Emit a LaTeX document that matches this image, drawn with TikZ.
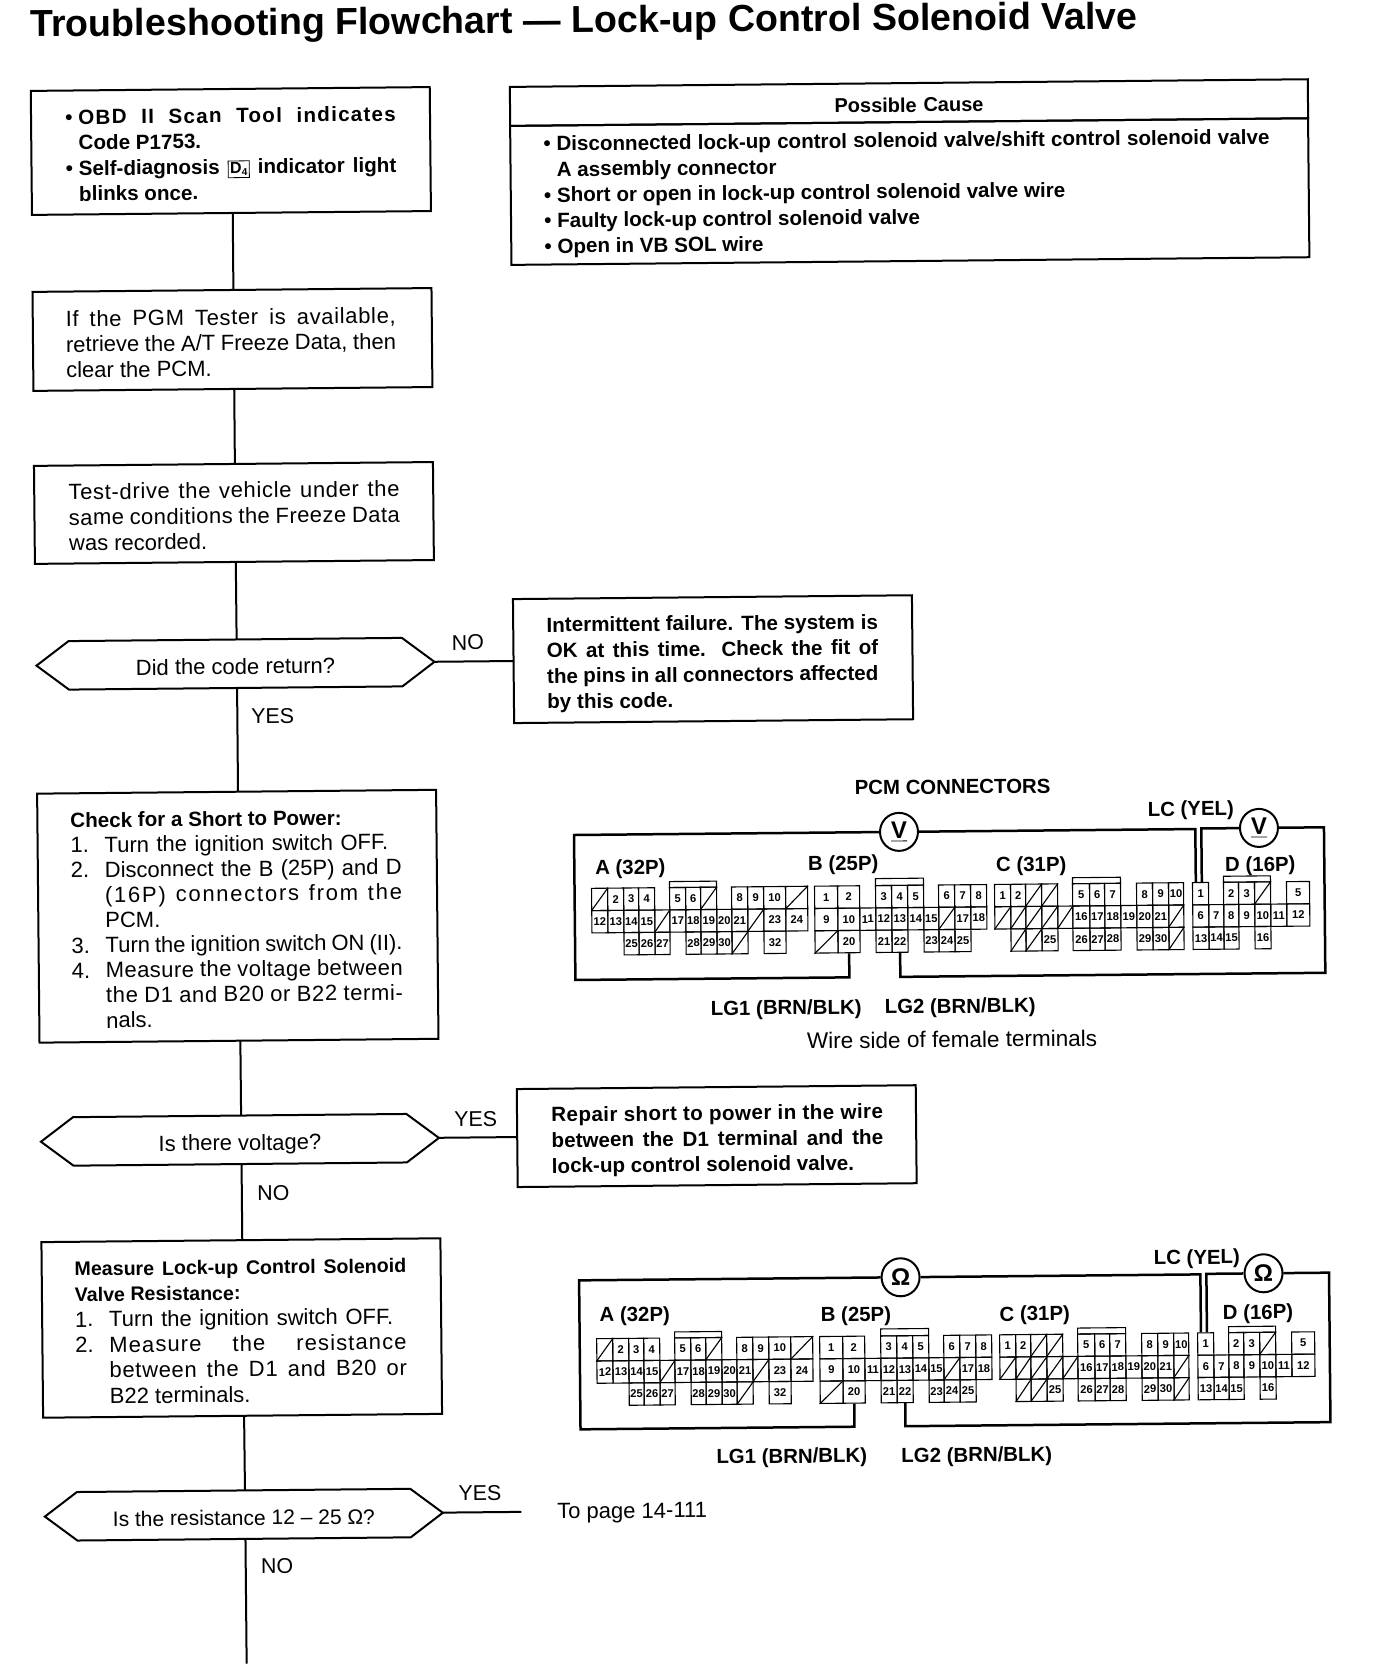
\documentclass[tikz,border=0pt]{standalone}
\usepackage{fontspec}
\setmainfont{Liberation Sans}
\usetikzlibrary{positioning,shapes.symbols}

\newcommand{\jl}[2]{\makebox[#1pt][s]{#2}}
\newcommand{\spaced}[1]{\addfontfeature{LetterSpace=#1}}
\newcommand{\numitem}[1]{\makebox[17pt][l]{#1}}
\newcommand{\bul}{\makebox[6.5pt][l]{\textbullet}}
\newcommand{\bulgap}{\hspace*{6.5pt}}
% left margin and height of the first line of a box text
\newcommand{\textstart}[2]{\leftskip=#1\spaceskip=0pt\xspaceskip=0pt\rule{0pt}{#2}\ignorespaces}

% the four PCM connectors, local origin at the top left of A
\newcommand{\pcmcells}[1]{
	\foreach \blk/\xa/\xb/\rw/\pin in {
		A/16/32/0/2,A/32/47/0/3,A/47/63/0/4,A/78/94/0/5,A/94/109/0/6,A/140/156/0/8,A/156/172/0/9,A/172/194/0/10,
		A/0/16/1/12,A/16/32/1/13,A/32/47/1/14,A/47/63/1/15,A/78/94/1/17,A/94/109/1/18,A/109/125/1/19,A/125/140/1/20,A/140/156/1/21,A/172/194/1/23,A/194/216/1/24,
		A/32/47/2/25,A/47/63/2/26,A/63/78/2/27,A/94/109/2/28,A/109/125/2/29,A/125/140/2/30,A/172/194/2/32,
		B/223/246/0/1,B/246/268/0/2,B/284/300/0/3,B/300/316/0/4,B/316/332/0/5,B/347/363/0/6,B/363/379/0/7,B/379/395/0/8,
		B/223/246/1/9,B/246/268/1/10,B/268/284/1/11,B/284/300/1/12,B/300/316/1/13,B/316/332/1/14,B/332/347/1/15,B/363/379/1/17,B/379/395/1/18,
		B/246/268/2/20,B/284/300/2/21,B/300/316/2/22,B/332/347/2/23,B/347/363/2/24,B/363/379/2/25,
		C/403/419/0/1,C/419/434/0/2,C/481/498/0/5,C/498/513/0/6,C/513/529/0/7,C/545/561/0/8,C/561/577/0/9,C/577/592/0/10,
		C/481/498/1/16,C/498/513/1/17,C/513/529/1/18,C/529/545/1/19,C/545/561/1/20,C/561/577/1/21,
		C/450/466/2/25,C/481/498/2/26,C/498/513/2/27,C/513/529/2/28,C/545/561/2/29,C/561/577/2/30,
		D/601/617/0/1,D/632/647/0/2,D/647/663/0/3,D/695/718/0/5,
		D/601/617/1/6,D/617/632/1/7,D/632/647/1/8,D/647/663/1/9,D/663/679/1/10,D/679/695/1/11,D/695/718/1/12,
		D/601/617/2/13,D/617/632/2/14,D/632/647/2/15,D/663/679/2/16}{
		\pgfmathsetmacro{\cw}{(\xb-\xa)*0.5}
		\node[pincell,minimum width=\cw pt] (#1\blk\pin) at ({(\xa+\xb)/2},{(\rw+0.5)*22.3}) {\pin};
	}
	% blanked terminals
	\foreach \xa/\xb/\rw in {
		0/16/0,109/125/0,194/216/0,63/78/1,156/172/1,140/156/2,
		223/246/2,347/363/1,
		434/450/0,450/466/0,403/419/1,419/434/1,434/450/1,450/466/1,466/481/1,577/592/1,419/434/2,434/450/2,577/592/2,
		663/679/0}{
		\pgfmathsetmacro{\cw}{(\xb-\xa)*0.5}
		\node[pincell,minimum width=\cw pt] (#1x\xa r\rw) at ({(\xa+\xb)/2},{(\rw+0.5)*22.3}) {};
		\draw[pinedge] (#1x\xa r\rw.south west) -- (#1x\xa r\rw.north east);
	}
	% keys above the cavities
	\draw[pinedge] (78,-6) rectangle (125,0);
	\draw[pinedge] (284,-7) rectangle (332,0);
	\draw[pinedge] (481,-6) rectangle (529,0);
	\draw[pinedge] (632,-6) rectangle (679,0);
}

\begin{document}
\begin{tikzpicture}[
	x=0.5pt,y=-0.5pt,
	flowbox/.style={draw, line width=1pt, outer sep=0pt, inner xsep=0pt, inner ysep=1pt, text width=199.5pt, align=left, font=\fontsize{11}{12.8}\selectfont},
	boldbox/.style={flowbox, font=\fontsize{10.3}{12.8}\selectfont\bfseries},
	decision/.style={draw, line width=1pt, outer sep=0pt, signal, signal to=west and east, signal pointer angle=73.8, minimum width=199pt, minimum height=24.25pt, inner ysep=0pt, text height=10.5pt, text depth=0pt, font=\fontsize{11}{12.8}\selectfont},
	flowline/.style={line width=1pt},
	trunk/.style={flowline, transform canvas={xshift=0.7pt}},
	answer/.style={font=\fontsize{10.7}{12.8}\selectfont},
	pincell/.style={draw, line width=0.55pt, inner sep=0pt, minimum height=11.15pt, font=\fontsize{5.6}{6}\selectfont\bfseries},
	pinedge/.style={line width=0.55pt},
	wire/.style={line width=1.25pt},
	meter/.style={draw, circle, line width=1pt, fill=white, inner sep=0pt, minimum size=19pt, font=\fontsize{12}{12}\selectfont\bfseries},
	tag/.style={font=\fontsize{10.2}{12}\selectfont\bfseries, inner sep=0pt}
	]
	\useasboundingbox (0,0) rectangle (1376,1676);

	\begin{scope}[rotate=0.55, transform shape]

	\node[anchor=base west, rotate=-0.15, inner sep=0pt, font=\fontsize{18.8}{20}\selectfont\bfseries] (title) at (29.7,37) {Troubleshooting Flowchart — Lock-up Control Solenoid Valve};

	% --- LEFT COLUMN ---
	\node[boldbox, minimum height=62pt] (obdbox) at (229.4,153.2) {\textstart{17.2pt}{10.3pt}
		\bul\jl{158.7}{\spaced{6}OBD II Scan Tool indicates}\\
		\bulgap Code P1753.\\
		\bul\jl{158.7}{Self-diagnosis {\fboxsep=0.8pt\fboxrule=0.4pt\fbox{\fontsize{8}{8}\selectfont D\raisebox{-0.2ex}{\fontsize{5}{5}\selectfont 4}}} indicator light}\\
		\bulgap blinks once.\par};
	\node[flowbox, minimum height=49.5pt] (pgmbox) at (229.2,341.7) {\textstart{16.5pt}{11.2pt}
		\jl{165}{\spaced{3}If the PGM Tester is available,}\\
		\jl{165}{retrieve the A/T Freeze Data, then}\\
		clear the PCM.\par};
	\node[flowbox, minimum height=49pt] (drivebox) at (229,515.2) {\textstart{17.2pt}{10.7pt}
		\jl{165.5}{\spaced{3}Test-drive the vehicle under the}\\
		\jl{165.5}{\spaced{2}same conditions the Freeze Data}\\
		was recorded.\par};
	\node[decision] (codedec) at (229.1,666) {Did the code return?};
	\node[flowbox, minimum height=124.5pt, font=\fontsize{11}{12.55}\selectfont] (powerbox) at (229,918.5) {\textstart{16.5pt}{10.3pt}
		{\fontsize{10.3}{12.55}\selectfont\bfseries Check for a Short to Power:}\\
		\numitem{1.}\jl{141.8}{Turn the ignition switch OFF.}\\
		\numitem{2.}\jl{148.5}{Disconnect the B (25P) and D}\\
		\numitem{}\jl{148.5}{\spaced{8}(16P) connectors from the}\\
		\numitem{}PCM.\\
		\numitem{3.}\jl{148.5}{Turn the ignition switch ON (II).}\\
		\numitem{4.}\jl{148.5}{\spaced{2}Measure the voltage between}\\
		\numitem{}\jl{148.5}{\spaced{3}the D1 and B20 or B22 termi-}\\
		\numitem{}nals.\par};
	\node[decision] (voltdec) at (229,1142.1) {Is there voltage?};
	\node[flowbox, minimum height=87.8pt] (ohmbox) at (229,1330.3) {\textstart{16.5pt}{10.4pt}
		{\fontsize{9.8}{12.8}\selectfont\bfseries\jl{165.8}{Measure Lock-up Control Solenoid}}\\
		{\fontsize{9.8}{12.8}\selectfont\bfseries Valve Resistance:}\\
		\numitem{1.}\jl{142}{Turn the ignition switch OFF.}\\
		\numitem{2.}\jl{148.6}{\spaced{5}Measure the resistance}\\
		\numitem{}\jl{148.6}{\spaced{3}between the D1 and B20 or}\\
		\numitem{}B22 terminals.\par};
	\node[decision, font=\fontsize{10.5}{12.8}\selectfont] (ohmdec) at (229.3,1517) {Is the resistance 12 – 25 Ω?};
	\coordinate (loopend) at (229.3,1666);

	% --- RIGHT COLUMN ---
	\node[flowbox, text width=399pt, minimum height=19.5pt, align=center, font=\fontsize{10}{12.8}\selectfont\bfseries] (causehead) at (908,111.3) {\rule{0pt}{9.5pt}Possible Cause};
	\node[boldbox, text width=399pt, minimum height=69.5pt, below=0pt of causehead] (causebody) {\textstart{16.6pt}{9.2pt}
		\bul\jl{356.5}{Disconnected lock-up control solenoid valve/shift control solenoid valve}\\
		\bulgap A assembly connector\\
		\bul Short or open in lock-up control solenoid valve wire\\
		\bul Faulty lock-up control solenoid valve\\
		\bul Open in VB SOL wire\par};
	\node[boldbox, minimum height=62pt] (failbox) at (706.7,666) {\textstart{16.7pt}{11.9pt}
		\jl{165.7}{Intermittent failure. The system is}\\
		\jl{165.7}{OK at this time. Check the fit of}\\
		\jl{165.7}{the pins in all connectors affected}\\
		by this code.\par};
	\node[boldbox, minimum height=49pt] (repairbox) at (705.8,1143) {\textstart{17.2pt}{11.9pt}
		\jl{165.8}{\spaced{2}Repair short to power in the wire}\\
		\jl{165.8}{between the D1 terminal and the}\\
		lock-up control solenoid valve.\par};
	\coordinate (ohmend) at (507,1517);
	\node[answer, font=\fontsize{11}{12.8}\selectfont, anchor=west, inner sep=0pt] (topage) at (542.4,1519) {To page 14-111};

	% --- CONNECTORS ---
	\draw[trunk] (obdbox) -- (pgmbox);
	\draw[trunk] (pgmbox) -- (drivebox);
	\draw[trunk] (drivebox) -- (codedec);
	\draw[trunk] (codedec) -- (powerbox);
	\draw[trunk] (powerbox) -- (voltdec);
	\draw[trunk] (voltdec) -- (ohmbox);
	\draw[trunk] (ohmbox) -- (ohmdec);
	\draw[trunk] (ohmdec) -- (loopend);
	\draw[flowline] (codedec.east) -- (codedec.east -| failbox.west);
	\draw[flowline] (voltdec.east) -- (voltdec.east -| repairbox.west);
	\draw[flowline] (ohmdec.east) -- (ohmend);

	\node[answer] (noA) at (461.8,647) {NO};
	\node[answer] (yesA) at (265.8,718.6) {YES};
	\node[answer] (yesB) at (465,1123.6) {YES};
	\node[answer] (noB) at (261.9,1195.3) {NO};
	\node[answer] (yesC) at (465.7,1498) {YES};
	\node[answer] (noC) at (262,1568.7) {NO};

	% --- VOLTAGE CHECK ---
	\begin{scope}[shift={(583,894)}]
		\pcmcells{d}
		\node[tag] (pcmtitle) at (362,-98) {PCM CONNECTORS};
		\node[tag] (lcvolt) at (600,-72) {LC (YEL)};
		\node[tag] (tagA) at (39,-19) {A (32P)};
		\node[tag] (tagB) at (252,-21) {B (25P)};
		\node[tag] (tagC) at (440,-18) {C (31P)};
		\node[tag] (tagD) at (669,-16) {D (16P)};
		\node[tag] (lgone) at (193.5,123) {LG1 (BRN/BLK)};
		\node[tag] (lgtwo) at (367.5,123) {LG2 (BRN/BLK)};
		\node[answer, font=\fontsize{11.25}{12.8}\selectfont] (wireside) at (359,154.5) {Wire side of female terminals};
		\node[meter] (vA) at (308,-53.5) {\underline{V}};
		\node[meter] (vB) at (668,-54) {\underline{V}};
		\draw[wire] (vA.west) -| (-17,91.5) -| (dB20.south);
		\draw[wire] ([xshift=-2.3pt]dD1.north) |- (vA.east);
		\draw[wire] ([xshift=0.7pt]dD1.north) |- (vB.west);
		\draw[wire] (vB.east) -| (733,91.5) -| (dB22.south);
	\end{scope}

	% --- RESISTANCE CHECK ---
	\begin{scope}[shift={(583.8,1344.4)}]
		\pcmcells{r}
		\node[tag] (lcohm) at (601,-74) {LC (YEL)};
		\node[tag] (ohmtagA) at (38.3,-22) {A (32P)};
		\node[tag] (ohmtagB) at (259.5,-20) {B (25P)};
		\node[tag] (ohmtagC) at (438.3,-19) {C (31P)};
		\node[tag] (ohmtagD) at (661.6,-18.5) {D (16P)};
		\node[tag] (ohmlgone) at (194,121) {LG1 (BRN/BLK)};
		\node[tag] (ohmlgtwo) at (379,121.5) {LG2 (BRN/BLK)};
		\node[meter] (oA) at (304.5,-58.5) {Ω};
		\node[meter] (oB) at (667.5,-59) {Ω};
		\draw[wire] (oA.west) -| (-17,90.5) -| (rB20.south);
		\draw[wire] ([xshift=-2.3pt]rD1.north) |- (oA.east);
		\draw[wire] ([xshift=0.7pt]rD1.north) |- (oB.west);
		\draw[wire] (oB.east) -| (733,90.5) -| (rB22.south);
	\end{scope}

	\end{scope}
\end{tikzpicture}
\end{document}
